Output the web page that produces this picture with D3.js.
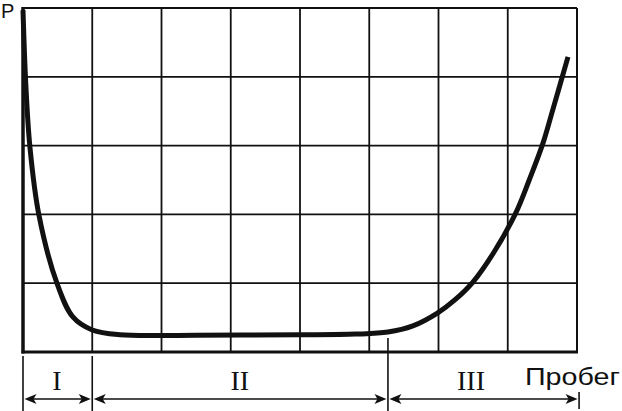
<!DOCTYPE html>
<html>
<head>
<meta charset="utf-8">
<script src="https://cdn.jsdelivr.net/npm/d3@7"></script>
<style>
  html, body { margin: 0; padding: 0; background: #fff; }
  svg { display: block; }
</style>
</head>
<body>
<svg id="chart" width="622" height="411"></svg>
<script>
// ---- data (mileage in grid units, pressure in grid units) ----
const mileage = [0, 0.04, 0.10, 0.23, 0.49, 0.72, 1.00, 1.40, 2.50, 4.00, 4.80,
                 5.27, 5.63, 5.99, 6.24, 6.50, 6.80, 7.12, 7.31, 7.51, 7.65, 7.87];
const pressure = [4.97, 3.90, 2.98, 1.99, 1.00, 0.51, 0.32, 0.25, 0.245, 0.25, 0.26,
                  0.29, 0.38, 0.57, 0.76, 1.02, 1.45, 2.03, 2.50, 3.04, 3.52, 4.29];
const gridColumns = [0, 1, 2, 3, 4, 5, 6, 7, 8];
const gridRows = [0, 1, 2, 3, 4, 5];
const stageBounds = [0, 1, 5.27, 8.03];
const stageLabels = ["I", "II", "III"];
const stageLabelAt = [0.49, 3.13, 6.47];
const yAxisLabel = "P";
const xAxisLabel = "Пробег";

// ---- layout ----
const svg = d3.select("#chart");
const x = d3.scaleLinear().domain([0, 8]).range([23, 577]);
const y = d3.scaleLinear().domain([0, 5]).range([352, 8]);
const ink = "#111";

// grid
svg.append("g").selectAll("line").data(gridColumns.slice(1, -1)).join("line")
  .attr("x1", d => x(d)).attr("x2", d => x(d))
  .attr("y1", y(5)).attr("y2", y(0))
  .attr("stroke", ink).attr("stroke-width", 1.8);
svg.append("g").selectAll("line").data(gridRows.slice(1, -1)).join("line")
  .attr("y1", d => y(d)).attr("y2", d => y(d))
  .attr("x1", x(0)).attr("x2", x(8))
  .attr("stroke", ink).attr("stroke-width", 1.8);

// frame
svg.append("line").attr("x1", x(0)).attr("x2", x(8)).attr("y1", y(5)).attr("y2", y(5))
  .attr("stroke", ink).attr("stroke-width", 2.2);
svg.append("line").attr("x1", x(8)).attr("x2", x(8)).attr("y1", y(5)).attr("y2", y(0))
  .attr("stroke", ink).attr("stroke-width", 2);
svg.append("line").attr("x1", x(0) - 1.5).attr("x2", x(8) + 1).attr("y1", y(0)).attr("y2", y(0))
  .attr("stroke", ink).attr("stroke-width", 3);
svg.append("line").attr("x1", x(0)).attr("x2", x(0)).attr("y1", y(5) - 1).attr("y2", y(0) + 1.5)
  .attr("stroke", ink).attr("stroke-width", 3.5);

// curve
const line = d3.line().x((d, i) => x(mileage[i])).y((d, i) => y(pressure[i]))
  .curve(d3.curveCatmullRom.alpha(0.5));
svg.append("path").datum(pressure).attr("d", line)
  .attr("fill", "none").attr("stroke", ink).attr("stroke-width", 5)
  .attr("stroke-linecap", "butt").attr("stroke-linejoin", "round");

// dimension lines under the chart
const dimY = 399;
const tickSpecs = [
  { v: stageBounds[0], y1: 356, y2: 411 },
  { v: stageBounds[1], y1: 356, y2: 411 },
  { v: stageBounds[2], y1: 338, y2: 411 },
  { v: stageBounds[3], y1: 392, y2: 409 }
];
svg.append("g").selectAll("line").data(tickSpecs).join("line")
  .attr("x1", d => x(d.v)).attr("x2", d => x(d.v))
  .attr("y1", d => d.y1).attr("y2", d => d.y2)
  .attr("stroke", ink).attr("stroke-width", 1.6);

function arrowHead(px, py, dir) {
  // dir = +1 points right, -1 points left
  const L = 12, W = 5, notch = 3;
  return `M${px},${py} L${px - dir * L},${py - W} L${px - dir * (L - notch)},${py} L${px - dir * L},${py + W} Z`;
}
const gap = 1.5;
for (let i = 0; i < stageLabels.length; i++) {
  const a = x(stageBounds[i]) + gap, b = x(stageBounds[i + 1]) - gap;
  svg.append("line").attr("x1", a + 4).attr("x2", b - 4).attr("y1", dimY).attr("y2", dimY)
    .attr("stroke", ink).attr("stroke-width", 1.6);
  svg.append("path").attr("d", arrowHead(a, dimY, -1)).attr("fill", ink);
  svg.append("path").attr("d", arrowHead(b, dimY, 1)).attr("fill", ink);
  svg.append("text").attr("x", x(stageLabelAt[i])).attr("y", 390)
    .attr("text-anchor", "middle")
    .attr("font-family", "Liberation Serif, Times New Roman, serif")
    .attr("font-size", 28).attr("fill", ink)
    .text(stageLabels[i]);
}

// axis labels
svg.append("text").attr("x", 1).attr("y", 18)
  .attr("font-family", "Liberation Sans, Arial, sans-serif").attr("font-size", 20).attr("fill", ink)
  .text(yAxisLabel);
svg.append("text").attr("x", 525).attr("y", 385)
  .attr("font-family", "Liberation Sans, Arial, sans-serif").attr("font-size", 24).attr("fill", ink)
  .attr("textLength", 95).attr("lengthAdjust", "spacingAndGlyphs")
  .text(xAxisLabel);
</script>
</body>
</html>
